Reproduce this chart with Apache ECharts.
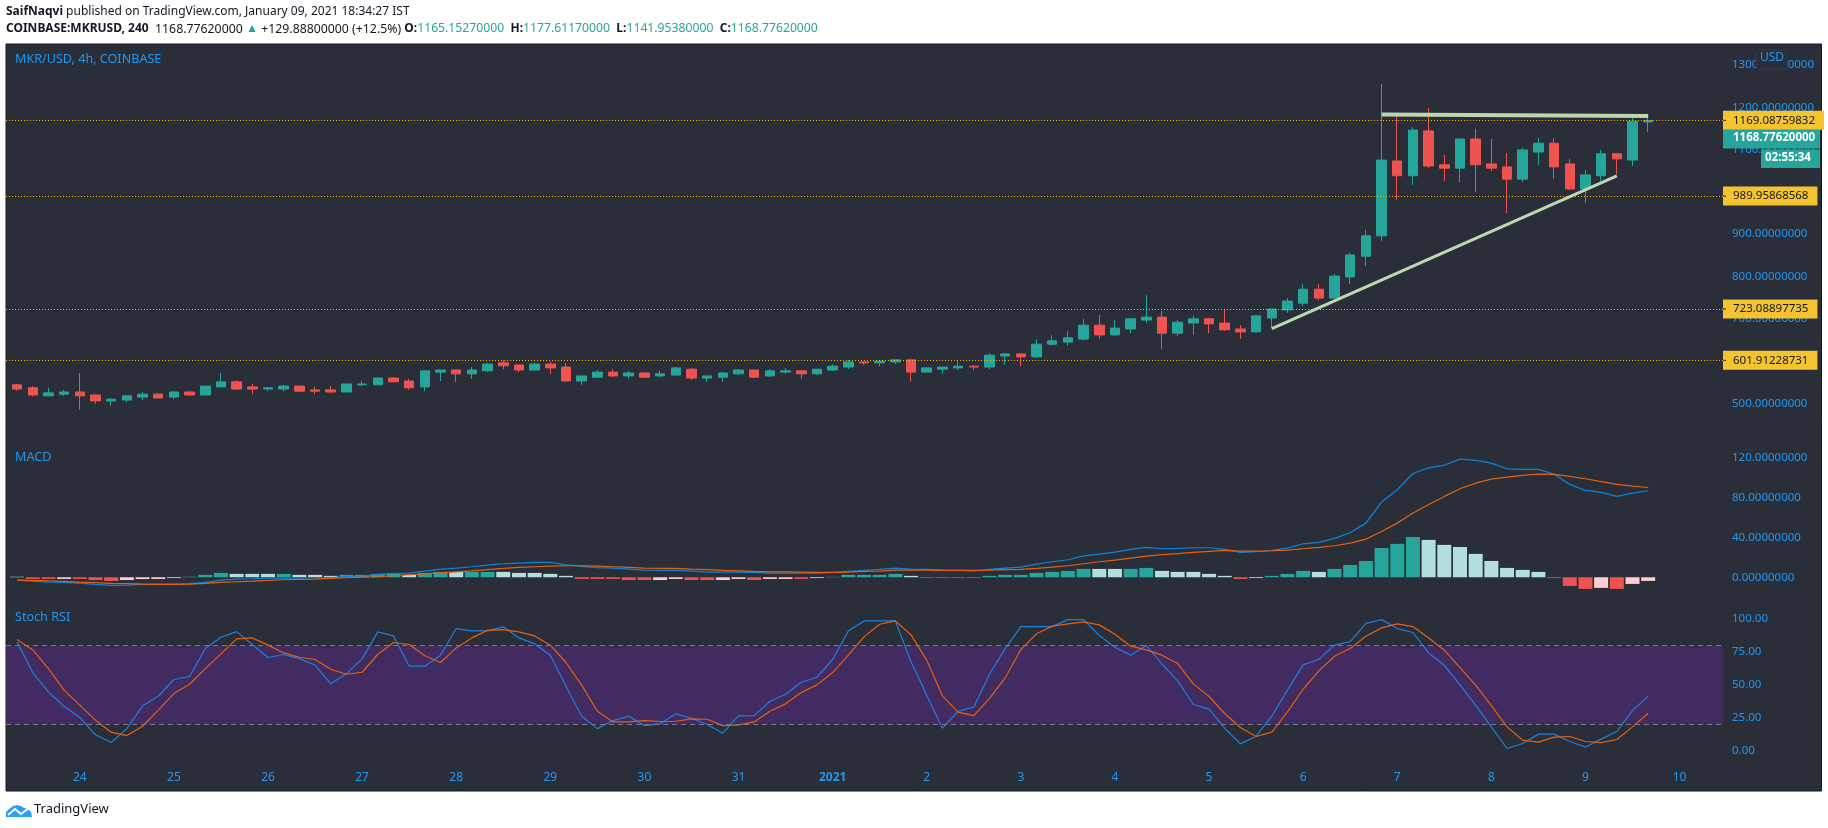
<!DOCTYPE html>
<html>
<head>
<meta charset="utf-8">
<title>MKR/USD</title>
<script src="https://cdn.jsdelivr.net/npm/echarts@6/dist/echarts.min.js"></script>
<style>
  html, body { margin: 0; padding: 0; background: #fff; }
  #chart { width: 1828px; height: 828px; }
</style>
</head>
<body>
<div id="chart"></div>
<script>
// 4h candles
const opens = [544,537,518,522,527,520,506,508,515,522,515,527,520,539,551,539,534,534,541,532,532,527,544,544,560,553,539,574,579,570,577,596,591,579,593,586,553,562,
  574,565,572,565,567,581,560,562,570,579,565,574,577,570,579,586,598,596,598,603,574,581,584,588,586,612,617,610,640,645,652,685,662,676,697,704,666,690,700,
  690,676,669,702,721,737,770,749,799,848,896,1073,1038,1144,1064,1056,1125,1066,1059,1030,1094,1115,1066,1007,1038,1090,1075,1165.15]
const closes = [534,520,525,527,518,506,510,518,522,513,527,520,541,551,534,534,537,541,529,529,527,546,546,560,551,537,577,579,570,579,593,589,579,593,584,553,565,574,
  565,572,562,570,584,560,565,572,579,562,577,577,570,581,588,598,596,600,603,574,584,586,588,586,614,617,610,640,648,655,685,662,678,700,704,666,692,700,688,
  674,669,707,723,742,770,749,801,851,896,1075,1038,1146,1061,1056,1125,1064,1056,1030,1099,1115,1059,1007,1040,1090,1078,1167,1168.78]
const lows = [530,516,518,518,485,499,494,503,508,513,510,518,520,539,532,522,529,529,527,522,525,527,541,544,551,532,529,553,551,558,574,581,574,579,570,551,544,560,
  562,558,560,562,565,555,551,551,567,560,562,570,558,567,577,581,591,588,593,551,574,570,579,579,581,591,588,607,636,636,648,652,659,666,690,629,659,662,666,
  671,652,669,678,714,730,744,749,782,825,884,981,1016,1056,1026,1023,1000,1049,950,1023,1064,1030,1004,974,1026,1042,1061,1141.95]
const highs = [546,541,537,532,572,520,513,518,527,525,529,529,541,572,555,546,539,544,541,539,541,546,553,562,562,558,577,579,579,586,596,603,591,596,598,596,565,579,
  581,577,572,577,586,584,565,574,581,579,581,584,579,581,593,603,600,603,603,603,586,586,603,591,619,619,619,652,662,671,700,709,697,702,756,718,697,707,702,
  723,685,707,723,749,782,782,806,856,910,1255,1179,1153,1198,1087,1125,1149,1125,1092,1104,1127,1127,1078,1052,1099,1090,1175,1177.61]

// price levels drawn by the author
const levelValues = [1169.08759832, 989.95868568, 723.08897735, 601.91228731]
const priceTicks = [500, 600, 700, 800, 900, 1000, 1100, 1200, 1300]

// trend lines as [bar, price]
const supportLine = [[80, 677], [102, 1038]]
const resistanceLine = [[87, 1183], [104, 1179]]

// MACD pane
const histValues = [0.5,-1.7,-1.7,-1.7,-1.7,-2.8,-3.7,-2.8,-1.8,-1.7,-0.8,0.5,2.4,4.4,3.4,3.4,3.4,3.4,2.4,2.4,1.4,2.4,2.4,3.4,3.4,2.4,4.4,5.4,5.4,5.4,5.4,5.4,4.4,4.4,3.4,1.4,-1.7,-1.7,
  -1.7,-2.8,-2.8,-2.8,-1.7,-2.8,-2.8,-2.8,-1.7,-2.8,-1.7,-1.7,-1.7,-0.8,0.4,2.4,2.4,2.4,3.4,1.4,-0.6,-0.6,-0.6,-0.6,1.4,2.4,2.4,4.4,5.4,6.4,8.4,8.4,8.4,8.4,9.4,6.4,5.4,5.4,3.4,
  1.4,-1.7,-0.8,1.4,3.4,6.4,5.4,8.4,12.4,16.4,29.5,33.6,40.6,37.6,32.6,30.5,23.5,16.4,9.4,7.4,5.4,-0.7,-8.7,-11.7,-10.7,-11.7,-6.7,-3.7]
// 1 = pale shade of the bar colour
const histPale = [1,0,0,1,0,0,0,1,1,1,1,0,0,0,1,1,1,0,1,1,1,0,0,0,0,1,0,0,1,0,0,1,1,1,1,1,0,0,
  0,0,0,1,1,0,0,1,1,0,1,1,0,1,0,0,0,0,0,1,0,0,0,0,0,0,0,0,0,0,0,1,1,0,0,1,1,1,1,
  1,0,1,0,0,0,1,0,0,0,0,0,0,1,1,1,1,1,1,1,1,0,0,0,1,0,1,1]
const macdLine = [-2.9,-3.9,-4.9,-5.2,-5.9,-7.2,-8.2,-7.9,-7.2,-6.9,-6.9,-6.5,-5.2,-2.9,-1.8,-1.5,-0.8,-0.8,-0.8,-0.5,-0.5,0.8,1.2,2.9,3.9,4.2,6.2,8.2,9.2,10.6,12.2,13.6,14.3,14.9,14.9,12.6,10.9,9.6,
  9.2,8.2,7.2,6.9,7.2,6.2,5.2,5.2,5.2,4.9,4.2,4.2,4.2,4.2,4.9,5.9,6.9,7.9,9.2,8.2,7.9,7.2,6.9,6.5,7.9,9.2,10.2,13.3,15.6,17.6,21.6,23.3,25.3,28.0,30.0,28.7,29.0,29.7,29.7,
  28.0,25.0,25.7,27.0,29.4,33.7,35.1,39.1,44.8,54.5,75.7,88.1,104.5,110.2,112.9,119.0,117.6,114.9,109.2,108.6,108.6,103.9,93.5,87.4,85.4,81.4,84.7,87.1]
const signalLine = [-2.9,-3.2,-3.5,-4.2,-4.9,-5.5,-6.2,-6.5,-6.9,-7.2,-7.2,-6.9,-6.2,-5.2,-4.5,-3.9,-3.2,-2.5,-2.2,-1.8,-1.2,-0.5,0.2,0.5,1.5,2.5,3.5,4.5,5.5,6.5,7.6,8.9,9.9,10.6,11.2,11.6,11.6,11.2,
  10.6,9.9,9.2,8.9,8.9,8.2,7.6,6.9,6.5,5.9,5.5,5.5,5.2,4.9,4.9,5.2,5.9,6.2,7.2,7.2,7.2,6.9,6.9,6.9,7.2,7.6,7.9,8.9,10.2,11.6,13.6,15.6,17.3,19.3,21.3,22.7,23.7,25.0,26.0,
  27.0,26.3,26.3,26.7,27.4,28.7,30.0,31.7,34.4,38.4,46.1,54.5,64.6,73.3,81.4,89.1,94.8,98.8,100.8,102.5,103.9,103.5,101.5,99.2,96.2,93.5,91.8,90.4]
const macdTicks = [0, 40, 80, 120]

// Stoch RSI pane
const stochK = [82.8,59.5,44.8,33.9,25.3,12.2,6.3,16.9,34.2,41.5,54.2,56.5,77.7,86.3,90.6,80.8,70.9,73.2,70.1,65.1,50.9,58.7,69.9,90.4,87.3,64.3,64.3,72.7,92.9,91.1,91.1,94.2,85.8,81.3,72.7,49.1,26.3,16.9,
  23.0,26.3,19.2,20.5,28.1,24.8,20.0,13.4,26.6,26.8,37.7,43.0,52.1,55.9,69.4,91.1,98.7,98.7,98.7,67.6,42.3,17.2,30.1,33.2,58.2,77.7,94.4,94.4,94.4,99.7,99.7,87.6,78.7,72.7,80.0,66.1,53.2,35.2,31.7,
  17.2,5.3,11.1,26.3,46.1,65.3,69.6,80.3,83.0,96.9,99.7,92.9,89.9,74.4,65.1,50.1,34.7,18.2,1.8,5.6,12.7,12.7,7.1,2.8,8.9,14.7,30.6,41.5]
const stochD = [84.6,76.7,62.5,46.1,34.7,23.3,14.2,11.6,18.7,30.9,43.5,50.6,62.5,73.7,85.1,85.8,80.3,74.4,71.1,69.4,62.0,58.2,59.7,73.4,82.3,80.8,72.2,67.1,78.2,85.8,91.6,92.1,90.4,87.3,80.3,67.1,49.9,30.1,
  22.0,22.0,23.0,22.3,22.5,24.3,24.0,19.2,19.8,22.0,30.1,35.7,44.3,50.1,59.5,72.7,86.6,96.2,98.7,88.1,68.9,41.8,29.4,26.8,39.8,55.4,77.0,88.9,94.7,96.5,98.0,95.7,88.6,79.5,76.7,72.7,66.3,50.9,41.3,
  28.4,17.7,10.9,14.2,29.6,46.8,60.8,71.9,77.7,87.1,93.4,96.5,94.4,85.8,76.5,63.3,49.9,34.4,18.2,8.1,6.6,10.4,10.9,7.1,6.3,8.6,18.2,28.6]
const stochTicks = [0, 25, 50, 75, 100]
const bandLimits = [20, 80]

// x axis: a tick every 6 bars
const dayTicks = [4, 10, 16, 22, 28, 34, 40, 46, 52, 58, 64, 70, 76, 82, 88, 94, 100, 106]
const dayLabels = ['24', '25', '26', '27', '28', '29', '30', '31', '2021', '2', '3', '4', '5', '6', '7', '8', '9', '10']

const UP = '#26a69a'
const DOWN = '#ef5350'
const UP_PALE = '#b2dfdb'
const DOWN_PALE = '#ffcdd2'
const BLUE = '#2196f3'
const LEVEL = '#f4c430'
const INK = '#131722'
const FONT = '"Noto Sans", sans-serif'

const chart = echarts.init(document.getElementById('chart'), null, { renderer: 'canvas' })

// Attach the bar index to a list of values
function withIndex(values) {
  return values.map((v, i) => [i, v])
}

// Shared x axis settings, only the bottom one shows its labels
function makeXAxis(gridIndex, showLabels) {
  return {
    type: 'value',
    gridIndex,
    min: -0.706,
    max: 108.77,
    axisLine: { show: false },
    axisTick: { show: false },
    splitLine: { show: false },
    axisLabel: showLabels ? {
      show: true,
      inside: true,
      margin: 7,
      customValues: dayTicks,
      hideOverlap: false,
      formatter: v => {
        const label = dayLabels[dayTicks.indexOf(v)]
        return label === '2021' ? '{year|2021}' : label
      },
      color: BLUE,
      fontFamily: FONT,
      fontSize: 12,
      rich: { year: { color: BLUE, fontFamily: FONT, fontSize: 12, fontWeight: 'bold' } }
    } : { show: false }
  }
}

function makeYAxis(gridIndex, min, max, ticks, digits) {
  return {
    type: 'value',
    gridIndex,
    position: 'right',
    min,
    max,
    axisLine: { show: false },
    axisTick: { show: false },
    splitLine: { show: false },
    axisLabel: {
      customValues: ticks,
      margin: 9,
      color: BLUE,
      fontFamily: FONT,
      fontSize: 11.5,
      formatter: v => v.toFixed(digits)
    }
  }
}

function makeLine(name, values, color, xAxisIndex, yAxisIndex, extra) {
  return Object.assign({
    name,
    type: 'line',
    xAxisIndex,
    yAxisIndex,
    data: withIndex(values),
    symbol: 'none',
    smooth: false,
    silent: true,
    lineStyle: { color, width: 1.2 }
  }, extra)
}

function makeTrend(name, points, width) {
  return {
    name,
    type: 'line',
    xAxisIndex: 0,
    yAxisIndex: 0,
    data: points,
    symbol: 'none',
    silent: true,
    z: 5,
    lineStyle: { color: '#bcd9ad', width }
  }
}

const option = {
  animation: false,
  backgroundColor: '#ffffff',
  textStyle: { fontFamily: FONT },
  grid: [
    { left: 6, right: 105, top: 44, height: 396 },
    { left: 6, right: 105, top: 440, height: 160 },
    { left: 6, right: 105, top: 600, height: 191 }
  ],
  xAxis: [makeXAxis(0, false), makeXAxis(1, false), makeXAxis(2, true)],
  yAxis: [
    makeYAxis(0, 413.6, 1349.4, priceTicks, 8),
    makeYAxis(1, -22.9, 138.2, macdTicks, 8),
    makeYAxis(2, -30.5, 114.6, stochTicks, 2)
  ],
  series: [
    {
      name: 'MKR/USD',
      type: 'candlestick',
      xAxisIndex: 0,
      yAxisIndex: 0,
      data: opens.map((o, i) => [i, o, closes[i], lows[i], highs[i]]),
      barWidth: 10,
      silent: true,
      itemStyle: {
        color: UP,
        color0: DOWN,
        borderColor: UP,
        borderColor0: DOWN,
        borderWidth: 1
      },
      markLine: {
        silent: true,
        symbol: 'none',
        animation: false,
        precision: 8,
        lineStyle: { color: '#ffb300', type: [1, 2], width: 1 },
        label: {
          position: 'end',
          distance: 0,
          formatter: p => '{tick|}{text|' + Number(p.value).toFixed(8) + '}',
          backgroundColor: LEVEL,
          padding: [3, 9, 3, 0],
          rich: {
            tick: { width: 3, height: 1, backgroundColor: INK },
            text: { color: INK, fontFamily: FONT, fontSize: 11.5, lineHeight: 13, padding: [0, 0, 0, 7] }
          }
        },
        data: levelValues.map(v => ({ yAxis: v }))
      }
    },
    makeTrend('support', supportLine, 3),
    makeTrend('resistance', resistanceLine, 4),
    {
      name: 'Histogram',
      type: 'bar',
      xAxisIndex: 1,
      yAxisIndex: 1,
      barWidth: 14,
      silent: true,
      data: histValues.map((v, i) => {
        const color = v >= 0
          ? (histPale[i] ? UP_PALE : UP)
          : (histPale[i] ? DOWN_PALE : DOWN)
        return { value: [i, v], itemStyle: { color } }
      })
    },
    makeLine('MACD', macdLine, '#0a84e0', 1, 1),
    makeLine('Signal', signalLine, '#e4610f', 1, 1),
    makeLine('%K', stochK, '#1e7fdc', 2, 2, {
      markArea: {
        silent: true,
        itemStyle: { color: '#412b60' },
        data: [[{ yAxis: bandLimits[0] }, { yAxis: bandLimits[1] }]]
      },
      markLine: {
        silent: true,
        symbol: 'none',
        label: { show: false },
        lineStyle: { color: '#787b86', type: [5, 4], width: 1 },
        data: bandLimits.map(v => ({ yAxis: v }))
      }
    }),
    makeLine('%D', stochD, '#e4610f', 2, 2)
  ],
  graphic: [
    // chart frame
    {
      type: 'rect',
      z: -1,
      shape: { x: 6, y: 44, width: 1815.5, height: 747 },
      style: { fill: '#2a2e39', stroke: INK, lineWidth: 1 }
    },
    // publication lines
    {
      type: 'text',
      x: 6,
      y: 6,
      style: {
        text: '{b|SaifNaqvi} published on TradingView.com, January 09, 2021 18:34:27 IST',
        fill: INK,
        font: '12px ' + FONT,
        rich: { b: { fontWeight: 'bold', fontFamily: FONT, fontSize: 12, fill: INK } }
      }
    },
    {
      type: 'text',
      x: 6,
      y: 23,
      style: {
        text: '{b|COINBASE:MKRUSD, 240}  1168.77620000 {g|▲} +129.88800000 (+12.5%) {b|O:}{g|1165.15270000}  {b|H:}{g|1177.61170000}  {b|L:}{g|1141.95380000}  {b|C:}{g|1168.77620000}',
        fill: INK,
        font: '12.3px ' + FONT,
        rich: {
          b: { fontWeight: 'bold', fontFamily: FONT, fontSize: 12, fill: INK },
          g: { fontFamily: FONT, fontSize: 12.2, fill: UP }
        }
      }
    },
    // pane titles
    { type: 'text', x: 15, y: 53, style: { text: 'MKR/USD, 4h, COINBASE', fill: BLUE, font: '12.6px ' + FONT } },
    { type: 'text', x: 15, y: 451, style: { text: 'MACD', fill: BLUE, font: '12.6px ' + FONT } },
    { type: 'text', x: 15, y: 611, style: { text: 'Stoch RSI', fill: BLUE, font: '12.6px ' + FONT } },
    // last price and countdown tags
    {
      type: 'rect',
      z: 10,
      shape: { x: 1723, y: 130, width: 97, height: 18.5 },
      style: { fill: UP }
    },
    {
      type: 'text',
      z: 11,
      x: 1733,
      y: 132,
      style: { text: '1168.77620000', fill: '#ffffff', font: 'bold 11.5px ' + FONT }
    },
    {
      type: 'rect',
      z: 10,
      shape: { x: 1761, y: 149.5, width: 59, height: 18.5 },
      style: { fill: UP }
    },
    {
      type: 'text',
      z: 11,
      x: 1765,
      y: 151.5,
      style: { text: '02:55:34', fill: '#ffffff', font: 'bold 11.5px ' + FONT }
    },
    // currency button
    {
      type: 'rect',
      z: 10,
      shape: { x: 1756, y: 50, width: 31, height: 19, r: 3 },
      style: { fill: '#2a2e39', stroke: '#363a45', lineWidth: 1 }
    },
    {
      type: 'text',
      z: 11,
      x: 1760,
      y: 52,
      style: { text: 'USD', fill: BLUE, font: '12px ' + FONT }
    },
    // footer logo
    {
      type: 'polygon',
      shape: { points: [[6, 817], [6, 812], [9, 809], [13, 806], [17, 805], [21, 806], [24, 808], [28, 809], [31, 812], [32, 817]] },
      style: { fill: '#2e9ef5' }
    },
    {
      type: 'polyline',
      z: 2,
      shape: { points: [[8, 815], [15, 809], [21, 814], [29, 808]] },
      style: { stroke: '#ffffff', lineWidth: 2, fill: 'none' }
    },
    {
      type: 'text',
      x: 34,
      y: 803,
      style: { text: 'TradingView', fill: INK, font: '13px ' + FONT }
    }
  ]
}

chart.setOption(option)
</script>
</body>
</html>
